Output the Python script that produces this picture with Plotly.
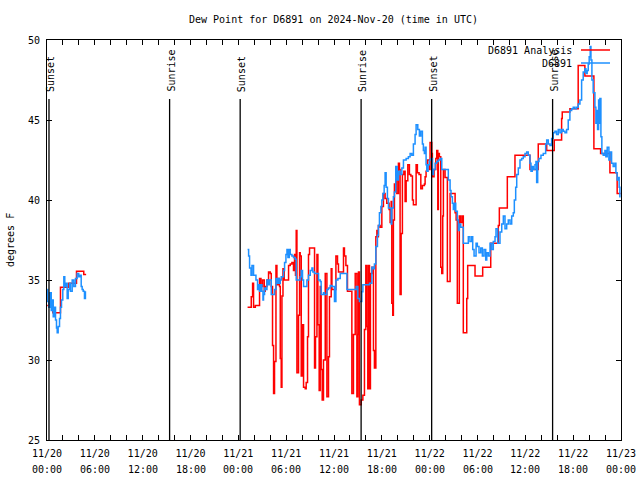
import pandas as pd
import plotly.graph_objects as go

TITLE = "Dew Point for D6891 on 2024-Nov-20 (time in UTC)"
Y_LABEL = "degrees F"
SERIES_NAMES = ["D6891 Analysis", "D6891"]
BASE = pd.Timestamp("2024-11-20 00:00")

# hours since 2024-11-20 00:00 UTC
OBS_T1 = [0.03, 0.10, 0.23, 0.35, 0.53, 0.65, 0.78, 0.94, 1.07, 1.19, 1.28, 1.40, 1.57, 1.69, 1.82,
          1.98, 2.11, 2.23, 2.41, 2.53, 2.66, 2.82, 2.94, 3.16, 3.36, 3.57, 3.78, 3.98, 4.11, 4.29,
          4.41, 4.54, 4.70, 4.82]
OBS_V1 = [34.4, 33.65, 33.3, 34.2, 33.1, 33.75, 32.7, 33.3, 32.5, 32.0, 31.7, 32.1, 32.6, 33.3, 33.75,
          34.4, 35.2, 34.6, 34.8, 33.85, 34.4, 34.8, 34.3, 35.0, 34.6, 35.1, 35.4, 35.2, 35.3, 34.6,
          34.4, 34.3, 33.85, 34.3]

OBS_T2 = [25.16, 25.29, 25.41, 25.59, 25.71, 25.84, 25.91, 26.13, 26.21, 26.41, 26.54, 26.66, 26.84,
          26.96, 27.09, 27.16, 27.29, 27.47, 27.59, 27.72, 27.88, 28.00, 28.13, 28.42, 28.54, 28.72,
          28.84, 28.97, 29.13, 29.26, 29.38, 29.55, 29.67, 29.80, 29.97, 30.10, 30.22, 30.39, 30.51,
          30.72, 30.92, 31.14, 31.26, 31.55, 31.76, 31.89, 32.05, 32.18, 32.39, 32.60, 32.80, 33.02,
          33.23, 33.35, 33.56, 33.86, 34.06, 34.27, 34.39, 34.68, 34.81, 35.11, 35.31, 35.52,
          35.74, 36.06, 36.24, 36.49, 36.78, 37.40, 37.62, 38.66, 38.78, 38.99, 39.19, 39.49, 39.62,
          40.12, 40.45, 40.75, 40.95, 41.07, 41.25, 41.45, 41.57, 41.70, 41.88, 42.00, 42.13, 42.29,
          42.41, 42.54, 42.70, 42.83, 43.04, 43.17, 43.25, 43.45, 43.58, 43.75, 43.92, 44.08, 44.29,
          44.51, 44.71, 45.05, 45.33, 45.55, 45.76, 45.96, 46.17, 46.30, 46.51, 46.71, 46.89, 47.09,
          47.21, 47.34, 47.43, 47.55, 47.64, 47.80, 47.97, 48.18, 48.34, 48.47, 48.68, 48.89, 49.09,
          49.31, 49.52, 50.22, 50.34, 50.56, 50.68, 50.85, 50.97, 51.10, 51.27, 51.47, 51.60, 51.72,
          51.90, 52.15, 52.22, 52.65, 52.85, 53.06, 53.28, 53.40, 53.57, 53.82, 53.98, 54.19, 54.41,
          54.61, 54.82, 55.03, 55.16, 55.36, 55.57, 55.78, 55.98, 56.20, 56.32, 56.53, 56.82, 57.04,
          57.24, 57.45, 57.66, 57.86, 58.08, 58.29, 58.49, 58.62, 58.79, 58.92, 59.12, 59.33, 59.54,
          59.74, 59.96, 60.17, 60.37, 60.58, 60.71, 60.87, 61.00, 61.21, 61.33, 61.42, 61.55, 61.71,
          61.96, 62.25, 62.55, 62.68, 62.88, 63.09, 63.30, 63.50, 63.71, 63.92, 64.13, 64.34, 64.55,
          64.75, 64.97, 65.18, 65.38, 65.59, 65.81, 66.01, 66.22, 66.43, 66.63, 66.85, 67.06, 67.26,
          67.47, 67.60, 67.76, 67.89, 68.01, 68.14, 68.23, 68.35, 68.51, 68.73, 68.85, 68.94, 69.06,
          69.19, 69.27, 69.35, 69.48, 69.60, 69.77, 69.98, 70.10, 70.27, 70.48, 70.61, 70.82, 71.02,
          71.23, 71.36, 71.52, 71.65, 71.77, 71.86, 71.95]
OBS_V2 = [36.9, 36.5, 35.75, 35.3, 35.9, 35.9, 35.3, 35.3, 35.0, 34.4, 34.7, 34.3, 34.7,
          34.3, 33.75, 34.1, 34.5, 34.4, 35.0, 34.7, 35.0, 35.0, 34.1, 34.1, 34.4, 35.1,
          34.8, 35.1, 34.8, 35.0, 35.2, 35.2, 35.6, 36.1, 36.6, 36.9, 36.4, 36.9, 36.6,
          36.5, 36.4, 36.3, 35.0, 35.0, 35.2, 35.6, 35.0, 34.6, 34.6, 35.0, 35.3, 35.6,
          35.75, 35.5, 35.4, 35.4, 35.0, 34.9, 34.1, 34.2, 34.1, 34.4, 34.5, 34.65,
          34.6, 33.65, 35.0, 35.1, 35.4, 35.4, 34.4, 34.4, 34.6, 33.85, 33.65, 34.27, 34.7,
          34.7, 34.8, 35.8, 35.7, 36.0, 37.1, 37.8, 38.4, 39.2, 39.6, 40.0, 40.4, 40.9,
          41.7, 40.8, 40.1, 39.5, 39.5, 38.5, 39.5, 40.2, 40.5, 42.1, 41.25, 41.8, 41.6,
          42.0, 42.5, 42.6, 42.7, 42.9, 42.8, 43.5, 44.1, 44.7, 44.4, 44.0, 44.3, 43.5,
          43.1, 42.9, 43.3, 42.2, 41.8, 42.2, 42.5, 42.6, 41.6, 41.9, 42.3, 42.4, 42.5,
          42.6, 41.9, 41.9, 41.25, 40.6, 40.2, 39.8, 39.4, 39.8, 39.3, 38.75, 38.1, 38.5,
          38.3, 38.3, 37.3, 37.3, 37.7, 37.4, 37.7, 36.9, 36.5, 37.3, 37.1, 36.7, 37.0,
          36.5, 36.9, 36.25, 36.7, 36.5, 37.3, 36.9, 37.4, 37.7, 38.2, 37.3, 38.0, 38.5,
          39.0, 38.2, 38.5, 38.75, 38.5, 39.0, 39.2, 40.0, 40.8, 41.6, 42.0, 42.5, 42.6,
          42.7, 42.9, 43.0, 42.8, 42.3, 41.8, 42.1, 41.9, 42.2, 42.4, 41.1, 42.4, 42.6,
          42.8, 42.9, 43.5, 43.75, 43.5, 43.4, 43.85, 44.2, 44.3, 44.1, 44.4, 44.2, 44.4,
          44.3, 44.2, 44.4, 45.0, 45.6, 45.7, 45.8, 45.7, 45.8, 46.0, 46.25, 47.5, 48.0,
          48.2, 47.9, 48.1, 48.5, 48.95, 49.6, 48.75, 47.5, 46.7, 45.8, 44.8, 45.6, 44.4,
          46.25, 44.8, 46.35, 43.95, 42.9, 42.8, 43.1, 42.7, 43.3, 42.5, 43.0, 42.3, 42.1,
          42.3, 41.7, 41.25, 41.4, 40.8, 40.2, 40.2]

ANA_T1 = [0.03, 0.73, 1.69, 2.73, 3.70, 4.61, 4.91]
ANA_V1 = [33.4, 32.95, 34.55, 34.8, 35.55, 35.35, 35.35]

ANA_T2 = [25.16, 25.62, 25.79, 25.91, 26.13, 26.66, 26.84, 27.04, 27.25, 27.38, 27.59, 27.79, 28.00,
          28.13, 28.29, 28.42, 28.54, 28.72, 28.84, 29.04, 29.17, 29.26, 29.38, 29.47, 29.60, 29.76,
          30.30, 30.51, 30.72, 30.92, 31.05, 31.17, 31.26, 31.35, 31.55, 31.68, 31.76, 31.89, 32.05,
          32.18, 32.39, 32.51, 32.68, 32.80, 32.93, 33.56, 33.68, 33.86, 33.98, 34.14, 34.27, 34.39,
          34.52, 34.68, 34.90, 35.11, 35.31, 35.43, 35.65, 35.74, 36.24, 36.44, 36.56, 37.19, 37.31,
          37.49, 37.69, 38.24, 38.44, 38.66, 38.87, 38.99, 39.07, 39.19, 39.41, 39.62, 39.82, 39.99,
          40.12, 40.24, 40.32, 40.45, 40.57, 40.75, 40.95, 41.07, 41.25, 41.38, 41.50, 41.57, 41.79,
          42.00, 42.20, 42.41, 42.62, 42.91, 43.04, 43.17, 43.25, 43.37, 43.45, 43.58, 43.75, 43.88,
          44.08, 44.21, 44.29, 44.42, 44.58, 44.76, 44.92, 45.05, 45.26, 45.46, 45.64, 45.84, 45.96,
          46.30, 46.46, 46.67, 46.89, 47.09, 47.34, 47.43, 47.55, 47.72, 47.97, 48.05, 48.26, 48.34,
          48.55, 48.77, 48.89, 49.02, 49.09, 49.22, 49.39, 49.52, 49.64, 49.72, 49.93, 50.22, 50.56,
          51.19, 51.32, 51.47, 51.72, 51.90, 52.10, 52.22, 52.65, 52.77, 53.69, 54.65, 55.66, 56.61,
          56.74, 57.74, 58.70, 60.58, 61.62, 62.68, 63.63, 64.55, 64.63, 65.59, 66.63, 67.47, 68.60,
          69.44, 70.61, 71.52, 71.95]
ANA_V2 = [33.3, 33.95, 34.8, 33.3, 33.4, 35.1, 34.6, 35.0, 34.3, 34.6, 35.0, 35.5, 35.4,
          34.6, 30.9, 27.9, 29.9, 35.9, 34.7, 35.1, 34.6, 30.1, 28.3, 34.0, 35.7, 35.0,
          35.9, 36.0, 36.1, 35.6, 36.6, 35.3, 38.1, 29.2, 32.8, 36.7, 36.5, 29.0, 32.2,
          28.3, 28.2, 28.6, 31.45, 36.6, 37.0, 29.5, 31.45, 36.6, 32.2, 28.1, 34.6, 29.4,
          27.5, 30.0, 35.4, 27.7, 30.2, 33.95, 35.7, 34.4, 36.5, 36.0, 35.5, 37.0, 36.5,
          35.9, 34.3, 27.9, 31.6, 35.4, 27.7, 31.6, 35.5, 27.2, 27.5, 27.8, 31.9, 35.9,
          32.1, 28.2, 35.9, 28.2, 35.4, 35.8, 30.6, 29.5, 37.7, 38.1, 37.7, 38.4, 38.3,
          39.6, 40.4, 40.1, 39.8, 39.4, 38.6, 39.9, 33.55, 32.8, 38.75, 41.0, 41.2, 40.4,
          42.3, 41.9, 34.1, 37.9, 41.6, 41.8, 39.9, 41.2, 42.2, 41.6, 41.5, 40.0, 39.7,
          42.2, 41.7, 41.6, 40.7, 40.9, 41.0, 41.45, 41.8, 42.5, 41.9, 43.6, 42.9, 41.45,
          41.9, 42.6, 43.1, 39.4, 42.9, 42.7, 35.8, 35.4, 39.0, 41.9, 41.4, 34.9, 40.4,
          39.2, 38.75, 33.55, 39.0, 38.6, 39.0, 31.7, 33.85, 35.9, 35.25, 35.8, 37.3, 38.4,
          39.5, 41.45, 42.8, 41.9, 43.5, 43.1, 43.75, 45.1, 45.5, 45.7, 48.4, 47.75, 43.2,
          42.9, 41.7, 40.4, 40.4]

SUN_EVENTS = ["Sunset", "Sunrise", "Sunset", "Sunrise", "Sunset", "Sunrise"]
SUN_T = [0.25, 15.38, 24.23, 39.40, 48.25, 63.42]

X_TICK_H = list(range(0, 73, 6))
X_MINOR_H = list(range(0, 73, 2))
Y_TICKS = [25, 30, 35, 40, 45, 50]

RED = "#ff0000"
BLUE = "#1e90ff"
FONT = "DejaVu Sans Mono"

FIG_W, FIG_H = 640, 480
M_L, M_R, M_T, M_B = 47, 19, 40, 40
PLOT_W = FIG_W - M_L - M_R
PLOT_H = FIG_H - M_T - M_B


def to_time(hours):
    return list(BASE + pd.to_timedelta(hours, unit="h"))


def join(t1, v1, t2, v2):
    x = to_time(t1) + [to_time([t1[-1]])[0]] + to_time(t2)
    y = list(v1) + [None] + list(v2)
    return x, y


fig = go.Figure()
ax, ay = join(ANA_T1, ANA_V1, ANA_T2, ANA_V2)
bx, by = join(OBS_T1, OBS_V1, OBS_T2, OBS_V2)
fig.add_trace(go.Scatter(x=ax, y=ay, mode="lines", name=SERIES_NAMES[0],
                         line=dict(color=RED, width=1.5, shape="hv"), connectgaps=False))
fig.add_trace(go.Scatter(x=bx, y=by, mode="lines", name=SERIES_NAMES[1],
                         line=dict(color=BLUE, width=1.5, shape="hv"), connectgaps=False))

major_times = to_time(X_TICK_H)
all_times = to_time(X_MINOR_H)
tick_text = [f"{t.month}/{t.day}" if t in major_times else "" for t in all_times]

shapes = []
annotations = []
for t in major_times:
    annotations.append(dict(text=f"{t:%H:%M}", x=t, xref="x", y=-29 / PLOT_H, yref="paper",
                            xanchor="center", yanchor="middle", showarrow=False,
                            font=dict(family=FONT, size=10, color="black")))

for name, t in zip(SUN_EVENTS, SUN_T):
    tt = to_time([t])[0]
    shapes.append(dict(type="line", xref="x", yref="paper", x0=tt, x1=tt, y0=0, y1=341 / PLOT_H,
                       line=dict(color="black", width=1.3)))
    annotations.append(dict(text=name, x=tt, xref="x", y=346 / PLOT_H, yref="paper", textangle=-90,
                            xanchor="center", yanchor="bottom", showarrow=False, xshift=1,
                            font=dict(family=FONT, size=10, color="black")))

# gnuplot-style key (text left, sample line right)
for i, (name, col) in enumerate(zip(SERIES_NAMES, [RED, BLUE])):
    ypos = 1 - (10 + 13 * i) / PLOT_H
    annotations.append(dict(text=name, x=527 / PLOT_W, xref="paper", y=ypos, yref="paper",
                            xanchor="right", yanchor="middle", showarrow=False,
                            font=dict(family=FONT, size=10, color="black")))
    shapes.append(dict(type="line", xref="paper", yref="paper",
                       x0=534 / PLOT_W, x1=563 / PLOT_W, y0=ypos, y1=ypos,
                       line=dict(color=col, width=1.5)))

annotations.append(dict(text=Y_LABEL, x=-37 / PLOT_W, xref="paper", y=0.5, yref="paper",
                        textangle=-90, xanchor="center", yanchor="middle", showarrow=False,
                        font=dict(family=FONT, size=10, color="black")))

fig.update_layout(
    width=FIG_W, height=FIG_H,
    margin=dict(l=M_L, r=M_R, t=M_T, b=M_B),
    paper_bgcolor="white", plot_bgcolor="white",
    showlegend=False,
    font=dict(family=FONT, size=10, color="black"),
    title=dict(text=TITLE, x=333.5 / FIG_W, xanchor="center", y=1 - 19 / FIG_H, yanchor="middle",
               font=dict(family=FONT, size=10, color="black")),
    shapes=shapes, annotations=annotations,
)
fig.update_xaxes(
    range=[major_times[0], major_times[-1]], tickmode="array", tickvals=all_times, ticktext=tick_text,
    ticks="inside", ticklen=5, tickcolor="black", showline=True, linecolor="black", linewidth=1,
    mirror="allticks", showgrid=False, zeroline=False, automargin=False, ticklabelstandoff=4,
    ticklabeloverflow="allow",
)
fig.update_yaxes(
    range=[25, 50], tickmode="array", tickvals=Y_TICKS, ticks="inside", ticklen=5,
    tickcolor="black", showline=True, linecolor="black", linewidth=1, mirror="allticks",
    showgrid=False, zeroline=False, automargin=False, ticklabelstandoff=4,
)

# remove the browser's default 8px page margin so the 640x480 figure fills the window
fig.write_html("out.html", config={"displayModeBar": False},
               post_script="document.body.style.margin='0px';")
